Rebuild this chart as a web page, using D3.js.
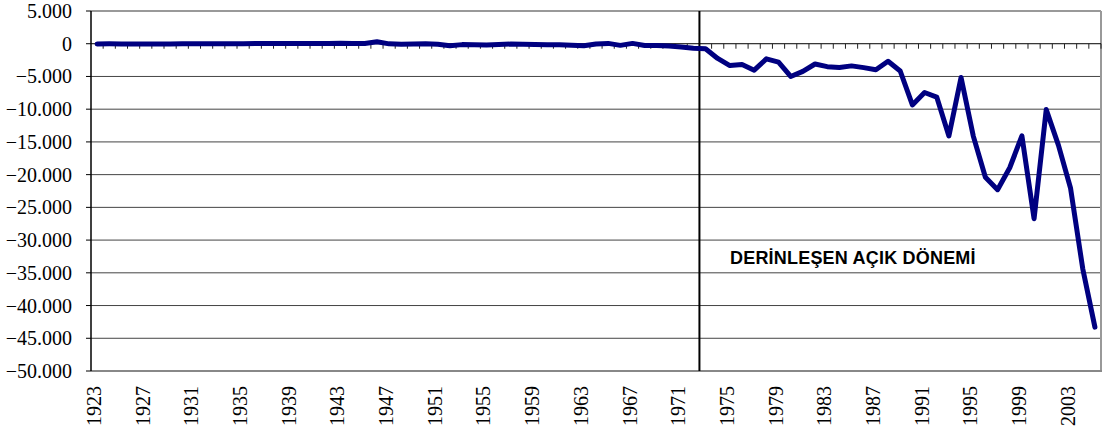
<!DOCTYPE html>
<html>
<head>
<meta charset="utf-8">
<script src="https://cdn.jsdelivr.net/npm/d3@7/dist/d3.min.js"></script>
<style>
  body { margin: 0; background: #fff; }
  svg { display: block; }
</style>
</head>
<body>
<svg width="1102" height="436"></svg>
<script>
// dış ticaret dengesi (milyon $), 1923-2005
var years = d3.range(1923, 2006);
var balance = [
  -36, -18, -26, -25, -27, -25, -49, 2, 2, 7,
  10, 6, -3, 25, 24, 30, 17, 31, 27, 23,
  60, 50, 42, 300, -21, -78, -42, -22, -88, -300,
  -136, -143, -185, -102, -52, -68, -116, -147, -162, -241,
  -320, -30, 50, -250, 50, -267, -264, -360, -494, -678,
  -769, -2245, -3338, -3169, -4043, -2311, -2808, -4999, -4230, -3097,
  -3507, -3623, -3385, -3648, -3968, -2673, -4167, -9343, -7453, -8157,
  -14083, -5164, -14072, -20402, -22298, -18947, -14084, -26728, -10065, -15495,
  -22087, -34373, -43298
];
var yTicks = d3.range(5000, -50001, -5000);
var labelYears = years.filter(function(y){ return (y - 1923) % 4 === 0; });
var splitYear = 1973;
var noteText = "DERİNLEŞEN AÇIK DÖNEMİ";

var svg = d3.select('svg');
var pLeft = 91, pRight = 1101, pTop = 11, pBottom = 371;

var x = d3.scaleBand().domain(years).range([pLeft, pRight]).padding(0);
var y = d3.scaleLinear().domain([-50000, 5000]).range([pBottom, pTop]);
var bw = x.bandwidth();

var fmt = function(v){ return d3.format(",")(v).replace(/,/g, "."); };

// yatay ızgara çizgileri
svg.append('g').selectAll('line').data(yTicks.filter(function(v){ return v !== 0 && v !== 5000 && v !== -50000; }))
  .enter().append('line')
  .attr('x1', pLeft).attr('x2', pRight)
  .attr('y1', function(d){ return y(d); }).attr('y2', function(d){ return y(d); })
  .attr('stroke', '#444').attr('stroke-width', 1);

// çerçeve
svg.append('line').attr('x1', pLeft).attr('x2', pRight).attr('y1', y(5000)).attr('y2', y(5000))
  .attr('stroke', '#999').attr('stroke-width', 2);
svg.append('line').attr('x1', pRight).attr('x2', pRight).attr('y1', pTop).attr('y2', pBottom)
  .attr('stroke', '#999').attr('stroke-width', 2);
svg.append('line').attr('x1', pLeft).attr('x2', pRight + 1).attr('y1', pBottom).attr('y2', pBottom)
  .attr('stroke', '#888').attr('stroke-width', 2);

// sol eksen
svg.append('line').attr('x1', pLeft).attr('x2', pLeft).attr('y1', pTop).attr('y2', pBottom)
  .attr('stroke', '#000').attr('stroke-width', 1.5);
svg.append('g').selectAll('line').data(yTicks).enter().append('line')
  .attr('x1', pLeft - 5).attr('x2', pLeft)
  .attr('y1', function(d){ return y(d); }).attr('y2', function(d){ return y(d); })
  .attr('stroke', '#000');
svg.append('g').selectAll('text').data(yTicks).enter().append('text')
  .attr('x', 72).attr('y', function(d){ return y(d); })
  .attr('dy', '0.35em').attr('text-anchor', 'end')
  .style('font-family', '"Liberation Serif", "Times New Roman", serif')
  .style('font-size', '20px')
  .text(function(d){ return fmt(d); });

// sıfır çizgisi ve kategori çentikleri
svg.append('line').attr('x1', pLeft).attr('x2', pRight).attr('y1', y(0)).attr('y2', y(0))
  .attr('stroke', '#000').attr('stroke-width', 1);
svg.append('g').selectAll('line').data(years.slice(1).concat(['end'])).enter().append('line')
  .attr('x1', function(d){ return d === 'end' ? pRight : x(d); })
  .attr('x2', function(d){ return d === 'end' ? pRight : x(d); })
  .attr('y1', y(0)).attr('y2', y(0) + 5)
  .attr('stroke', '#222').attr('stroke-width', 1);

// yıl etiketleri
svg.append('g').selectAll('text').data(labelYears).enter().append('text')
  .attr('transform', function(d){ return 'translate(' + (x(d) + bw / 2) + ',386) rotate(-90)'; })
  .attr('dy', '0.2em').attr('text-anchor', 'end')
  .style('font-family', '"Liberation Serif", "Times New Roman", serif')
  .style('font-size', '20px')
  .text(function(d){ return d; });

// dönem ayırıcı çizgi
svg.append('line').attr('x1', x(splitYear)).attr('x2', x(splitYear))
  .attr('y1', pTop).attr('y2', pBottom)
  .attr('stroke', '#000').attr('stroke-width', 2);

// veri çizgisi
var line = d3.line()
  .x(function(d, i){ return x(years[i]) + bw / 2; })
  .y(function(d){ return y(d); });
svg.append('path').datum(balance)
  .attr('d', line)
  .attr('fill', 'none').attr('stroke', '#000080')
  .attr('stroke-width', 5)
  .attr('stroke-linejoin', 'round').attr('stroke-linecap', 'round');

// not
svg.append('text').attr('x', 730).attr('y', 264)
  .style('font-family', '"Liberation Sans", Arial, sans-serif')
  .style('font-size', '18px').style('font-weight', 'bold')
  .style('letter-spacing', '0.2px')
  .text(noteText);
</script>
</body>
</html>
